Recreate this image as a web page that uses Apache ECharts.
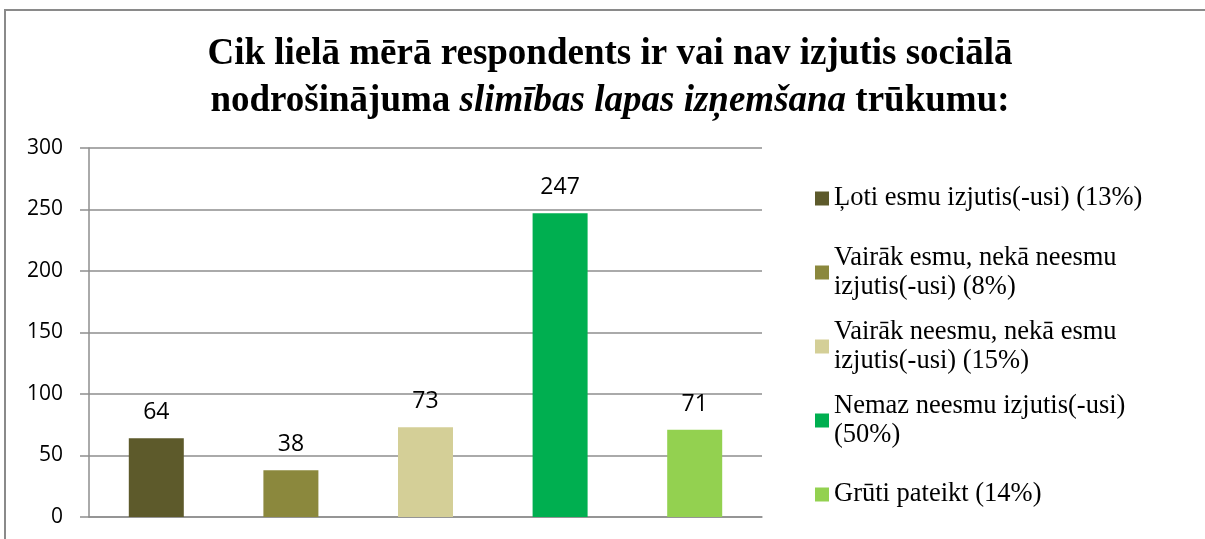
<!DOCTYPE html>
<html>
<head>
<meta charset="utf-8">
<title>Slimības lapas izņemšana</title>
<script src="https://cdn.jsdelivr.net/npm/echarts@6/dist/echarts.min.js"></script>
<style>
  html, body { margin: 0; padding: 0; background: #fff; }
  #chart { width: 1205px; height: 539px; }
</style>
</head>
<body>
<div id="chart"></div>
<script>
// atbilžu kategorijas un respondentu skaits
var categories = [
  'Ļoti esmu izjutis(-usi) (13%)',
  'Vairāk esmu, nekā neesmu\nizjutis(-usi) (8%)',
  'Vairāk neesmu, nekā esmu\nizjutis(-usi) (15%)',
  'Nemaz neesmu izjutis(-usi)\n(50%)',
  'Grūti pateikt (14%)'
];
var counts = [64, 38, 73, 247, 71];
var colors = ['#5d5a2b', '#8b883d', '#d4cf97', '#00af50', '#93d150'];
var yTicks = [0, 50, 100, 150, 200, 250, 300];

var chart = echarts.init(document.getElementById('chart'), null, { renderer: 'canvas' });

// katrai kategorijai sava sērija, lai leģendā būtu katrs stabiņš
var series = categories.map(function (name, i) {
  var data = counts.map(function (v, j) { return j === i ? v : '-'; });
  return {
    type: 'bar',
    name: name,
    data: data,
    barWidth: 55,
    barGap: '-100%',
    itemStyle: { color: colors[i] },
    label: {
      show: true,
      position: 'top',
      distance: 14,
      color: '#000',
      fontFamily: 'Open Sans',
      fontSize: 23
    }
  };
});

var legendData = categories.map(function (name) {
  var twoLines = name.indexOf('\n') >= 0;
  return {
    name: name,
    textStyle: { padding: twoLines ? [29, 0, 0, 0] : [29, 0, 29, 0] }
  };
});

var option = {
  animation: false,
  backgroundColor: '#fff',
  title: {
    left: 610,
    top: 31,
    padding: 0,
    textAlign: 'center',
    text: '{b|Cik lielā mērā respondents ir vai nav izjutis sociālā}\n' +
      '{b|nodrošinājuma }{i|slimības lapas izņemšana}{b| trūkumu:}',
    textStyle: {
      rich: {
        b: {
          fontFamily: 'Liberation Serif',
          fontWeight: 'bold',
          fontSize: 37,
          lineHeight: 47,
          color: '#000'
        },
        i: {
          fontFamily: 'Liberation Serif',
          fontWeight: 'bold',
          fontStyle: 'italic',
          fontSize: 37,
          lineHeight: 47,
          color: '#000'
        }
      }
    }
  },
  legend: {
    orient: 'vertical',
    left: 815,
    top: 155,
    padding: 0,
    itemGap: -13,
    itemWidth: 14,
    itemHeight: 14,
    icon: 'rect',
    selectedMode: false,
    data: legendData,
    textStyle: {
      fontFamily: 'Liberation Serif',
      fontSize: 26.5,
      lineHeight: 29,
      color: '#000'
    }
  },
  grid: {
    left: 89,
    right: 443,
    top: 148,
    bottom: 22
  },
  xAxis: {
    type: 'category',
    data: categories,
    axisLine: { show: true, lineStyle: { color: '#8e8e8e', width: 1.5 } },
    axisTick: { show: false },
    axisLabel: { show: false }
  },
  yAxis: {
    type: 'value',
    min: yTicks[0],
    max: yTicks[yTicks.length - 1],
    interval: 50,
    axisLine: { show: true, lineStyle: { color: '#8e8e8e', width: 1.5 } },
    axisTick: { show: true, length: 9, lineStyle: { color: '#8e8e8e', width: 1.5 } },
    axisLabel: {
      margin: 26,
      color: '#000',
      fontFamily: 'Open Sans',
      fontSize: 21
    },
    splitLine: { lineStyle: { color: '#8e8e8e', width: 1.5 } }
  },
  series: series,
  graphic: [
    {
      // diagrammas rāmis
      type: 'rect',
      silent: true,
      shape: { x: 5, y: 10, width: 1300, height: 700 },
      style: { fill: 'none', stroke: '#8a8a8a', lineWidth: 2 }
    }
  ]
};

chart.setOption(option);
</script>
</body>
</html>
